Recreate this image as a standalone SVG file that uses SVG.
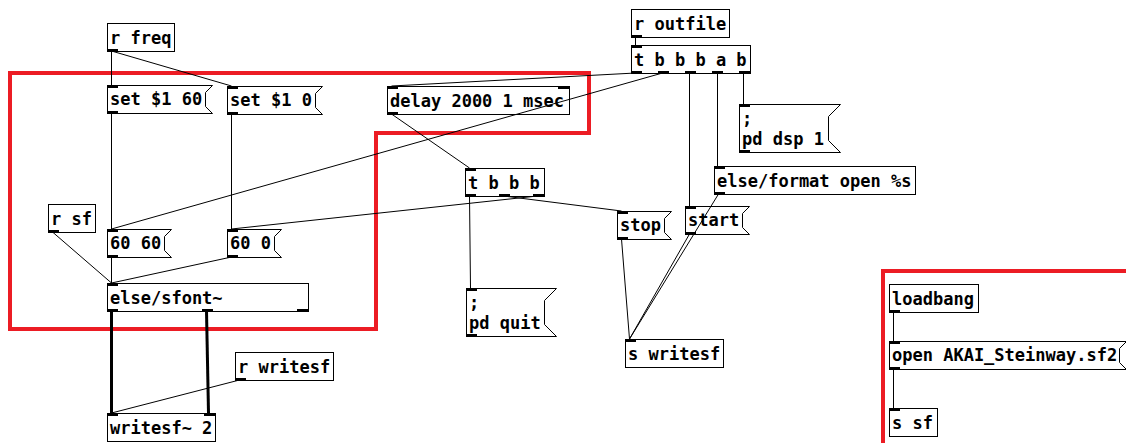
<svg xmlns="http://www.w3.org/2000/svg" width="1126" height="443" viewBox="0 0 1126 443">
<style>
.bg{fill:#ffffff}
.red{fill:none;stroke:#ec1c24;stroke-width:4}
.box{fill:none;stroke:#000;stroke-width:1}
.io{fill:#000}
.t{font-family:"DejaVu Sans Mono","Liberation Mono",monospace;font-weight:bold;font-size:17px;fill:#000}
.c{stroke:#000;stroke-width:1;fill:none}
.sig{stroke:#000;stroke-width:3;fill:none}
</style>
<rect class="bg" x="0" y="0" width="1126" height="443"/>
<g id="comments">
<polygon class="red" points="10,73 589,73 589,133 376,133 376,329 10,329"/>
<rect class="red" x="883" y="271" width="300" height="300"/>
</g>
<g id="connectors">
<line class="c" x1="111.5" y1="51" x2="111.5" y2="85"/>
<line class="c" x1="111.5" y1="51" x2="231.5" y2="86"/>
<line class="c" x1="111.5" y1="113" x2="111.5" y2="229"/>
<line class="c" x1="231.5" y1="114" x2="231.5" y2="229"/>
<line class="c" x1="52.5" y1="232" x2="111.5" y2="283"/>
<line class="c" x1="111.5" y1="257" x2="111.5" y2="283"/>
<line class="c" x1="231.5" y1="257" x2="111.5" y2="283"/>
<line class="sig" x1="111.5" y1="311" x2="111.5" y2="413"/>
<line class="sig" x1="206.5" y1="311" x2="208.5" y2="413"/>
<line class="c" x1="239.5" y1="380" x2="111.5" y2="413"/>
<line class="c" x1="635.5" y1="37" x2="635.5" y2="45"/>
<line class="c" x1="635.5" y1="73" x2="391.5" y2="86"/>
<line class="c" x1="662.5" y1="73" x2="111.5" y2="229"/>
<line class="c" x1="689.5" y1="73" x2="689.5" y2="206"/>
<line class="c" x1="717.5" y1="73" x2="717.5" y2="166"/>
<line class="c" x1="743.5" y1="73" x2="743.5" y2="104"/>
<line class="c" x1="391.5" y1="114" x2="469.5" y2="168"/>
<line class="c" x1="469.5" y1="196" x2="470.5" y2="288"/>
<line class="c" x1="503.5" y1="196" x2="621.5" y2="211"/>
<line class="c" x1="537.5" y1="196" x2="231.5" y2="229"/>
<line class="c" x1="621.5" y1="239" x2="629.5" y2="339"/>
<line class="c" x1="689.5" y1="234" x2="629.5" y2="339"/>
<line class="c" x1="718.5" y1="194" x2="629.5" y2="339"/>
<line class="c" x1="893.5" y1="312" x2="893.5" y2="341"/>
<line class="c" x1="893.5" y1="369" x2="893.5" y2="408"/>
</g>
<g id="r_freq">
<rect class="box" x="107.5" y="23.5" width="67" height="28"/>
<rect class="io" x="107" y="49" width="11" height="3"/>
<text class="t" x="110" y="44">r freq</text>
</g>
<g id="msg_set60">
<path class="box" d="M107.5 85.5 H212.5 L205.5 92.5 V106.5 L212.5 113.5 H107.5 Z"/>
<rect class="io" x="107" y="85" width="11" height="3"/>
<rect class="io" x="107" y="111" width="11" height="3"/>
<text class="t" x="110" y="105">set $1 60</text>
</g>
<g id="msg_set0">
<path class="box" d="M227.5 86.5 H322.5 L315.5 93.5 V107.5 L322.5 114.5 H227.5 Z"/>
<rect class="io" x="227" y="86" width="11" height="3"/>
<rect class="io" x="227" y="112" width="11" height="3"/>
<text class="t" x="230" y="106">set $1 0</text>
</g>
<g id="r_outfile">
<rect class="box" x="631.5" y="9.5" width="98" height="28"/>
<rect class="io" x="631" y="35" width="11" height="3"/>
<text class="t" x="634" y="30">r outfile</text>
</g>
<g id="t_bbbab">
<rect class="box" x="631.5" y="45.5" width="119" height="28"/>
<rect class="io" x="631" y="45" width="11" height="3"/>
<rect class="io" x="631" y="71" width="11" height="3"/>
<rect class="io" x="658" y="71" width="11" height="3"/>
<rect class="io" x="685" y="71" width="11" height="3"/>
<rect class="io" x="712" y="71" width="11" height="3"/>
<rect class="io" x="739" y="71" width="11" height="3"/>
<text class="t" x="634" y="66">t b b b a b</text>
</g>
<g id="delay">
<rect class="box" x="387.5" y="86.5" width="182" height="28"/>
<rect class="io" x="387" y="86" width="11" height="3"/>
<rect class="io" x="558" y="86" width="11" height="3"/>
<rect class="io" x="387" y="112" width="11" height="3"/>
<text class="t" x="390" y="107">delay 2000 1 msec</text>
</g>
<g id="msg_dsp">
<path class="box" d="M739.5 104.5 H840.5 L828.5 116.5 V140.5 L840.5 152.5 H739.5 Z"/>
<rect class="io" x="739" y="104" width="11" height="3"/>
<rect class="io" x="739" y="150" width="11" height="3"/>
<text class="t" x="742" y="125">;</text>
<text class="t" x="742" y="145">pd dsp 1</text>
</g>
<g id="format">
<rect class="box" x="714.5" y="166.5" width="201" height="28"/>
<rect class="io" x="714" y="166" width="11" height="3"/>
<rect class="io" x="714" y="192" width="11" height="3"/>
<text class="t" x="717" y="187">else/format open %s</text>
</g>
<g id="msg_start">
<path class="box" d="M685.5 206.5 H749.5 L742.5 213.5 V227.5 L749.5 234.5 H685.5 Z"/>
<rect class="io" x="685" y="206" width="11" height="3"/>
<rect class="io" x="685" y="232" width="11" height="3"/>
<text class="t" x="688" y="226">start</text>
</g>
<g id="msg_stop">
<path class="box" d="M617.5 211.5 H671.5 L664.5 218.5 V232.5 L671.5 239.5 H617.5 Z"/>
<rect class="io" x="617" y="211" width="11" height="3"/>
<rect class="io" x="617" y="237" width="11" height="3"/>
<text class="t" x="620" y="231">stop</text>
</g>
<g id="t_bbb">
<rect class="box" x="465.5" y="168.5" width="79" height="28"/>
<rect class="io" x="465" y="168" width="11" height="3"/>
<rect class="io" x="465" y="194" width="11" height="3"/>
<rect class="io" x="499" y="194" width="11" height="3"/>
<rect class="io" x="533" y="194" width="11" height="3"/>
<text class="t" x="468" y="189">t b b b</text>
</g>
<g id="msg_quit">
<path class="box" d="M466.5 288.5 H556.5 L544.5 300.5 V324.5 L556.5 336.5 H466.5 Z"/>
<rect class="io" x="466" y="288" width="11" height="3"/>
<rect class="io" x="466" y="334" width="11" height="3"/>
<text class="t" x="469" y="309">;</text>
<text class="t" x="469" y="329">pd quit</text>
</g>
<g id="s_writesf">
<rect class="box" x="625.5" y="339.5" width="98" height="28"/>
<rect class="io" x="625" y="339" width="11" height="3"/>
<text class="t" x="628" y="360">s writesf</text>
</g>
<g id="r_sf">
<rect class="box" x="48.5" y="204.5" width="47" height="28"/>
<rect class="io" x="48" y="230" width="11" height="3"/>
<text class="t" x="51" y="225">r sf</text>
</g>
<g id="msg_6060">
<path class="box" d="M107.5 229.5 H171.5 L164.5 236.5 V250.5 L171.5 257.5 H107.5 Z"/>
<rect class="io" x="107" y="229" width="11" height="3"/>
<rect class="io" x="107" y="255" width="11" height="3"/>
<text class="t" x="110" y="249">60 60</text>
</g>
<g id="msg_600">
<path class="box" d="M227.5 229.5 H281.5 L274.5 236.5 V250.5 L281.5 257.5 H227.5 Z"/>
<rect class="io" x="227" y="229" width="11" height="3"/>
<rect class="io" x="227" y="255" width="11" height="3"/>
<text class="t" x="230" y="249">60 0</text>
</g>
<g id="sfont">
<rect class="box" x="107.5" y="283.5" width="201" height="28"/>
<rect class="io" x="107" y="283" width="11" height="3"/>
<rect class="io" x="107" y="309" width="11" height="3"/>
<rect class="io" x="202" y="309" width="11" height="3"/>
<rect class="io" x="297" y="309" width="11" height="3"/>
<text class="t" x="110" y="304">else/sfont~</text>
</g>
<g id="r_writesf">
<rect class="box" x="235.5" y="352.5" width="98" height="28"/>
<rect class="io" x="235" y="378" width="11" height="3"/>
<text class="t" x="238" y="373">r writesf</text>
</g>
<g id="writesf2">
<rect class="box" x="107.5" y="413.5" width="108" height="28"/>
<rect class="io" x="107" y="413" width="11" height="3"/>
<rect class="io" x="204" y="413" width="11" height="3"/>
<text class="t" x="110" y="434">writesf~ 2</text>
</g>
<g id="loadbang">
<rect class="box" x="889.5" y="284.5" width="89" height="28"/>
<rect class="io" x="889" y="310" width="11" height="3"/>
<text class="t" x="892" y="305">loadbang</text>
</g>
<g id="msg_open">
<path class="box" d="M889.5 341.5 H1126.5 L1119.5 348.5 V362.5 L1126.5 369.5 H889.5 Z"/>
<rect class="io" x="889" y="341" width="11" height="3"/>
<rect class="io" x="889" y="367" width="11" height="3"/>
<text class="t" x="892" y="361">open AKAI_Steinway.sf2</text>
</g>
<g id="s_sf">
<rect class="box" x="889.5" y="408.5" width="48" height="28"/>
<rect class="io" x="889" y="408" width="11" height="3"/>
<text class="t" x="892" y="429">s sf</text>
</g>
</svg>
